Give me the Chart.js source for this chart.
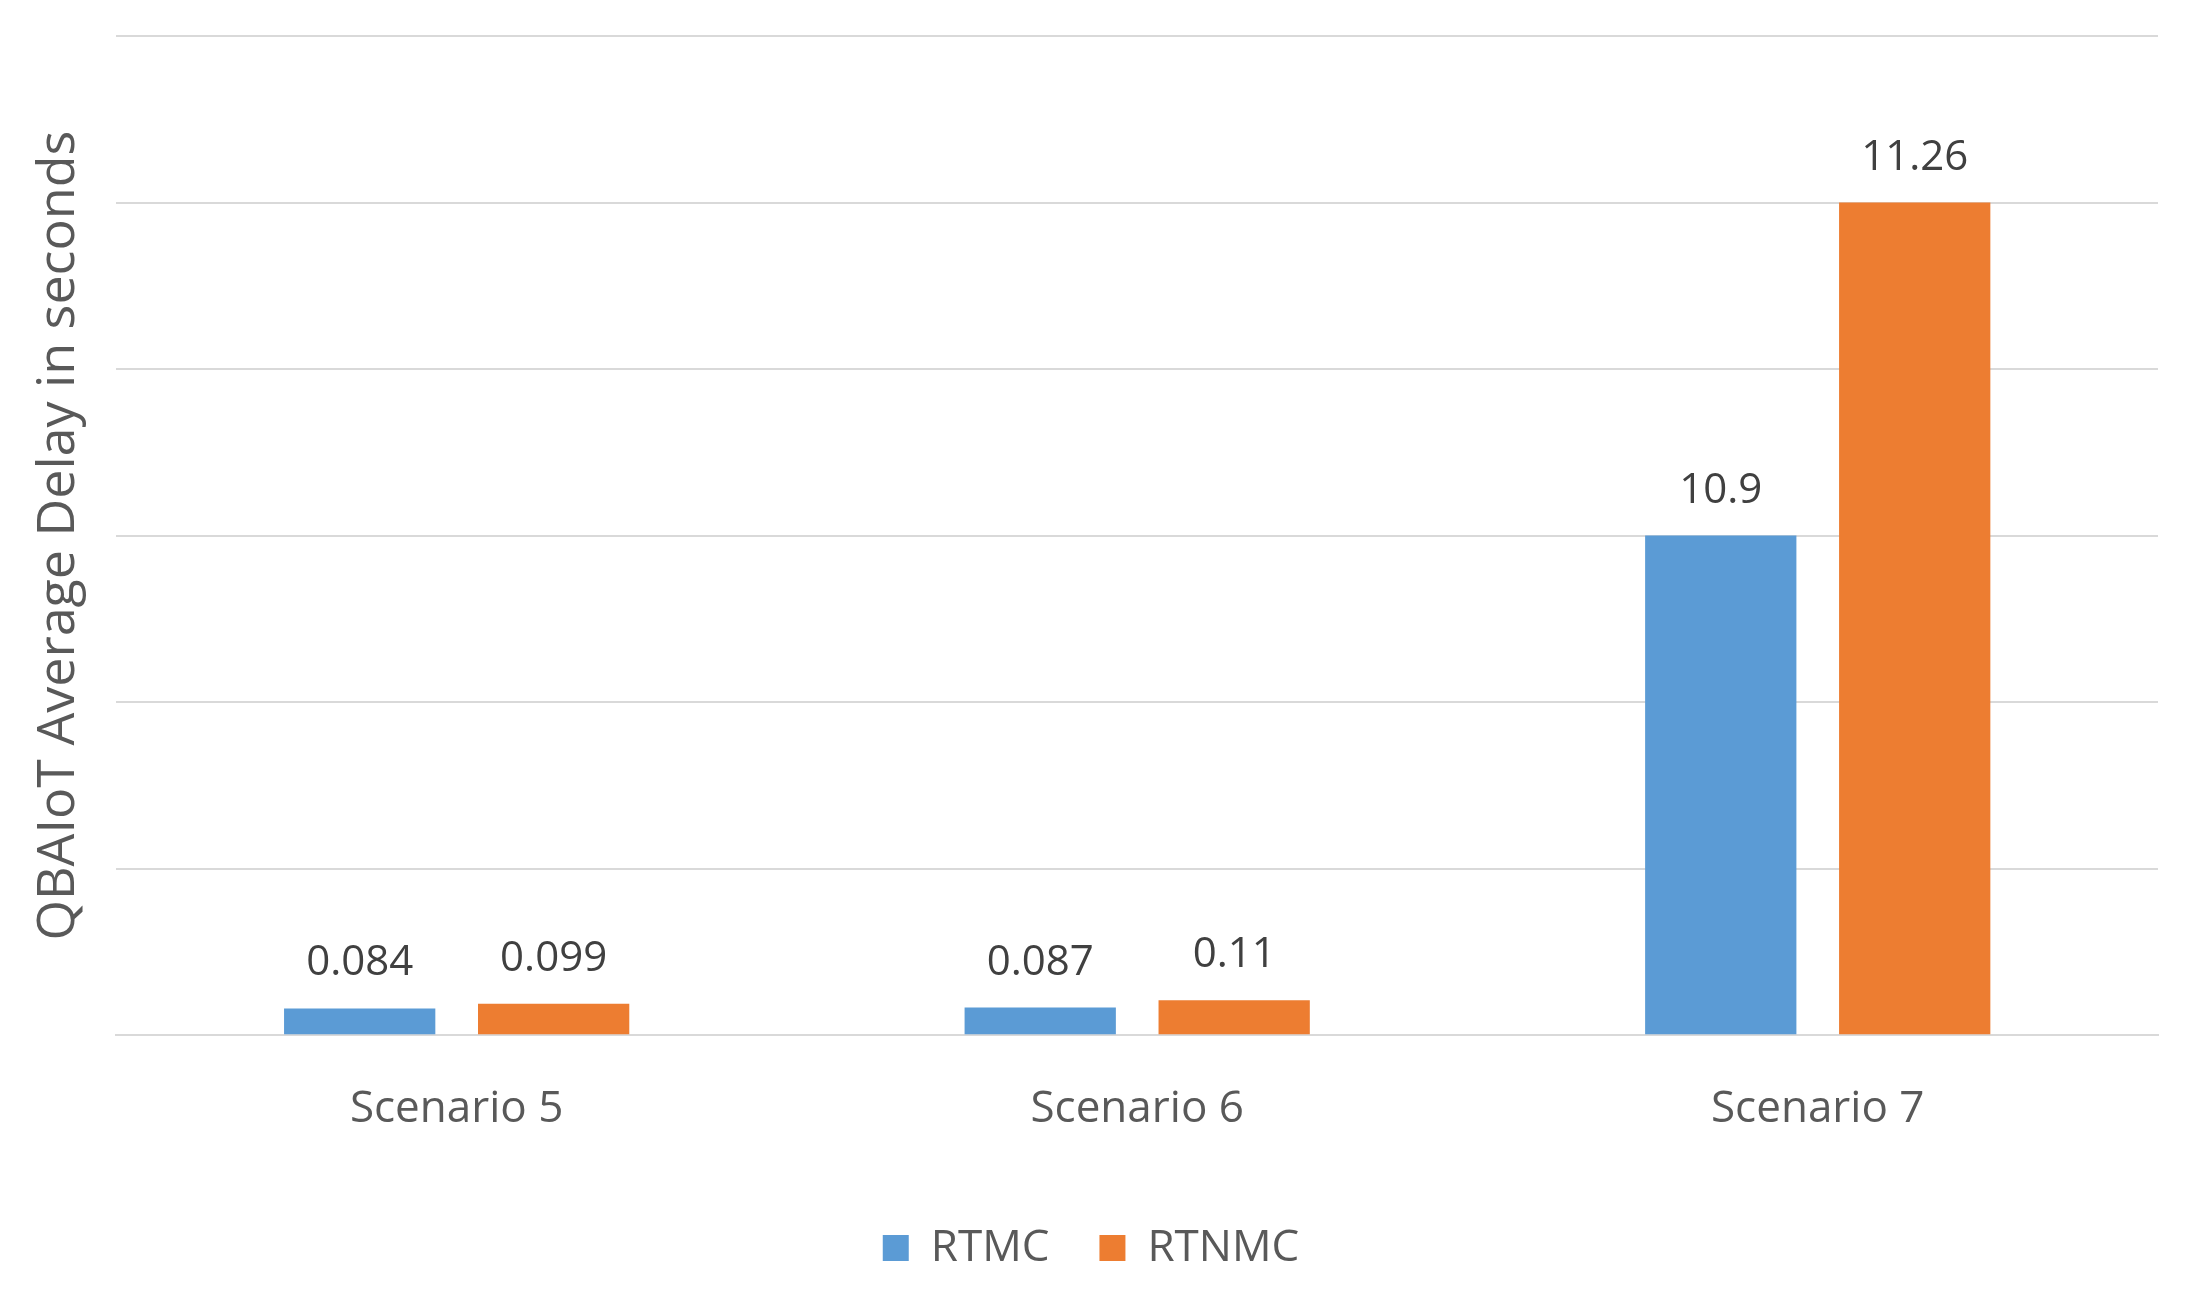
<!DOCTYPE html>
<html>
<head>
<meta charset="utf-8">
<script src="https://cdn.jsdelivr.net/npm/chart.js@4/dist/chart.umd.min.js"></script>
<style>
  html, body { margin: 0; padding: 0; background: #fff; }
  #wrap { width: 2208px; height: 1290px; }
</style>
</head>
<body>
<div id="wrap"><canvas id="c" width="2208" height="1290"></canvas></div>
<script>
const scenarios = ['Scenario 5', 'Scenario 6', 'Scenario 7'];
const rtmc = [0.084, 0.087, 10.9];
const rtnmc = [0.099, 0.11, 11.26];
const seriesNames = ['RTMC', 'RTNMC'];

// the original axis is not linear: anchors map a value to grid units (6 gridlines)
const warpPoints = [[0, 0], [0.11, 0.21], [10.9, 3.0], [11.26, 5.0], [12, 6]];

function warp(v) {
  for (let i = 1; i < warpPoints.length; i++) {
    const [a, pa] = warpPoints[i - 1], [b, pb] = warpPoints[i];
    if (v <= b) return pa + (v - a) / (b - a) * (pb - pa);
  }
  return 6;
}
function unwarp(u) {
  for (let i = 1; i < warpPoints.length; i++) {
    const [a, pa] = warpPoints[i - 1], [b, pb] = warpPoints[i];
    if (u <= pb) return a + (u - pa) / (pb - pa) * (b - a);
  }
  return 12;
}

class WarpScale extends Chart.LinearScale {
  buildTicks() {
    const ticks = [];
    for (let i = 0; i <= 6; i++) ticks.push({ value: unwarp(i) });
    return ticks;
  }
  getPixelForValue(value) {
    return this.getPixelForDecimal(warp(value) / 6);
  }
  getValueForPixel(pixel) {
    return unwarp(this.getDecimalForPixel(pixel) * 6);
  }
}
WarpScale.id = 'warp';
WarpScale.defaults = Chart.LinearScale.defaults;
Chart.register(WarpScale);

const valueLabels = {
  id: 'valueLabels',
  afterDatasetsDraw(chart) {
    const ctx = chart.ctx;
    ctx.save();
    ctx.font = '42px "Open Sans", sans-serif';
    ctx.fillStyle = '#404040';
    ctx.textAlign = 'center';
    ctx.textBaseline = 'bottom';
    chart.data.datasets.forEach((ds, di) => {
      chart.getDatasetMeta(di).data.forEach((bar, i) => {
        ctx.fillText(String(ds.data[i]), bar.x, bar.y - 24);
      });
    });
    ctx.restore();
  }
};

new Chart(document.getElementById('c').getContext('2d'), {
  type: 'bar',
  data: {
    labels: scenarios,
    datasets: [
      { label: seriesNames[0], data: rtmc, backgroundColor: '#5B9BD5' },
      { label: seriesNames[1], data: rtnmc, backgroundColor: '#ED7D31' }
    ]
  },
  options: {
    responsive: false,
    animation: false,
    devicePixelRatio: 1,
    layout: { padding: { left: 24, right: 50, top: 36, bottom: 10 } },
    datasets: { bar: { barPercentage: 0.78, categoryPercentage: 0.57 } },
    scales: {
      x: {
        grid: { display: false },
        border: { color: '#d9d9d9', width: 2 },
        ticks: { color: '#595959', font: { size: 44, family: '"Open Sans", sans-serif' }, padding: 40 }
      },
      y: {
        type: 'warp',
        min: 0,
        max: 12,
        grid: { color: '#d9d9d9', lineWidth: 2, drawTicks: false },
        border: { display: false },
        ticks: { display: false },
        title: {
          display: true,
          text: 'QBAIoT Average Delay in seconds',
          color: '#595959',
          font: { size: 52, family: '"Open Sans", sans-serif' },
          padding: { bottom: 26 }
        }
      }
    },
    plugins: {
      legend: {
        position: 'bottom',
        labels: {
          color: '#595959',
          font: { size: 44, family: '"Open Sans", sans-serif' },
          boxWidth: 26, boxHeight: 26, padding: 50
        }
      },
      tooltip: { enabled: false }
    }
  },
  plugins: [valueLabels]
});
</script>
</body>
</html>
